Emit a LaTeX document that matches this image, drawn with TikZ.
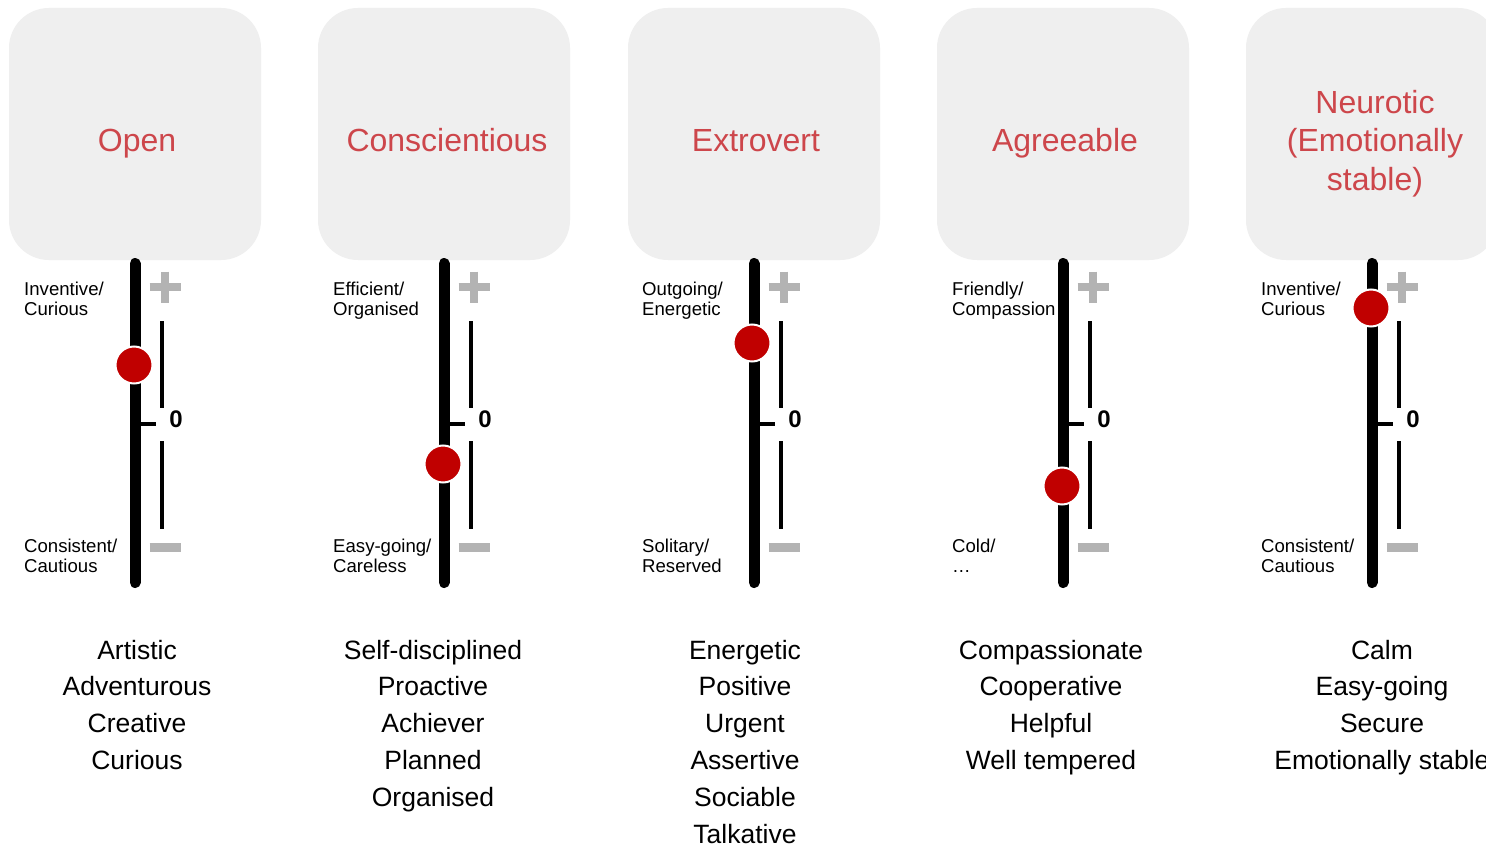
\documentclass[tikz,border=0pt]{standalone}
\usepackage{fontspec}
\setmainfont{Liberation Sans}
\definecolor{boxgray}{HTML}{EFEFEF}
\definecolor{titlered}{HTML}{CD464B}
\definecolor{dotred}{HTML}{C00000}
\definecolor{signgray}{HTML}{B3B3B3}
\tikzset{
  panel/.style={fill=boxgray, draw=none, rounded corners=40pt},
  bar/.style={line width=11pt, line cap=round, black},
  sign/.style={line width=8.5pt, signgray},
  thin/.style={line width=3.5pt, black},
  dot/.style={circle, fill=dotred, draw=white, line width=2pt, minimum size=37pt, inner sep=0pt},
  title/.style={anchor=base, inner sep=0pt, text=titlered, font=\fontsize{32}{38}\selectfont},
  small/.style={anchor=base west, inner sep=0pt, font=\fontsize{18.6}{20}\selectfont},
  zero/.style={anchor=base, inner sep=0pt, font=\fontsize{24}{28}\selectfont\bfseries},
  item/.style={anchor=base, inner sep=0pt, font=\fontsize{26.5}{34}\selectfont},
}
\begin{document}
\begin{tikzpicture}[x=1pt,y=-1pt]
\useasboundingbox (0,0) rectangle (1486,845);
\clip (0,0) rectangle (1486,845);
\fill[white] (0,0) rectangle (1486,845);
% panels and scales
\foreach \cx in {135,444,754,1063,1372}{
  \fill[panel] (\cx-126,8) rectangle (\cx+126,260);
  \draw[bar] (\cx,263.5) -- (\cx,582.5);
  \draw[sign] (\cx+14.5,287) -- (\cx+45.5,287);
  \draw[sign] (\cx+30,271.5) -- (\cx+30,302.5);
  \draw[sign] (\cx+14.5,547.5) -- (\cx+45.5,547.5);
  \draw[thin] (\cx+27,321) -- (\cx+27,408);
  \draw[thin] (\cx+27,441) -- (\cx+27,529);
  \draw[thin] (\cx+5,424) -- (\cx+21,424);
  \node[zero] at (\cx+41,427) {0};
}
% titles
\node[title] (t1) at (137,152) {Open};
\node[title] (t2) at (447,152) {Conscientious};
\node[title] (t3) at (756,152) {Extrovert};
\node[title] (t4) at (1065,152) {Agreeable};
\node[title] (t5a) at (1375,114) {Neurotic};
\node[title] (t5b) at (1375,152) {(Emotionally};
\node[title] (t5c) at (1375,191) {stable)};
% dots
\node[dot] (d1) at (134,365) {};
\node[dot] (d2) at (443,464) {};
\node[dot] (d3) at (752,343) {};
\node[dot] (d4) at (1062,486) {};
\node[dot] (d5) at (1371,308) {};
% scale labels
\node[small] (u1a) at (24,295) {Inventive/};
\node[small] (u1b) at (24,315) {Curious};
\node[small] (l1a) at (24,552) {Consistent/};
\node[small] (l1b) at (24,572) {Cautious};
\node[small] (u2a) at (333,295) {Efficient/};
\node[small] (u2b) at (333,315) {Organised};
\node[small] (l2a) at (333,552) {Easy-going/};
\node[small] (l2b) at (333,572) {Careless};
\node[small] (u3a) at (642,295) {Outgoing/};
\node[small] (u3b) at (642,315) {Energetic};
\node[small] (l3a) at (642,552) {Solitary/};
\node[small] (l3b) at (642,572) {Reserved};
\node[small] (u4a) at (952,295) {Friendly/};
\node[small] (u4b) at (952,315) {Compassion};
\node[small] (l4a) at (952,552) {Cold/};
\node[small] (l4b) at (952,572) {\dots};
\node[small] (u5a) at (1261,295) {Inventive/};
\node[small] (u5b) at (1261,315) {Curious};
\node[small] (l5a) at (1261,552) {Consistent/};
\node[small] (l5b) at (1261,572) {Cautious};
% lists
\foreach \t [count=\k from 0] in {Artistic,Adventurous,Creative,Curious}
  \node[item] (a\k) at (137,659+36.8*\k) {\t};
\foreach \t [count=\k from 0] in {Self-disciplined,Proactive,Achiever,Planned,Organised}
  \node[item] (b\k) at (433,659+36.8*\k) {\t};
\foreach \t [count=\k from 0] in {Energetic,Positive,Urgent,Assertive,Sociable,Talkative}
  \node[item] (c\k) at (745,659+36.8*\k) {\t};
\foreach \t [count=\k from 0] in {Compassionate,Cooperative,Helpful,Well tempered}
  \node[item] (e\k) at (1051,659+36.8*\k) {\t};
\foreach \t [count=\k from 0] in {Calm,Easy-going,Secure,Emotionally stable}
  \node[item] (f\k) at (1382,659+36.8*\k) {\t};
\end{tikzpicture}
\end{document}
